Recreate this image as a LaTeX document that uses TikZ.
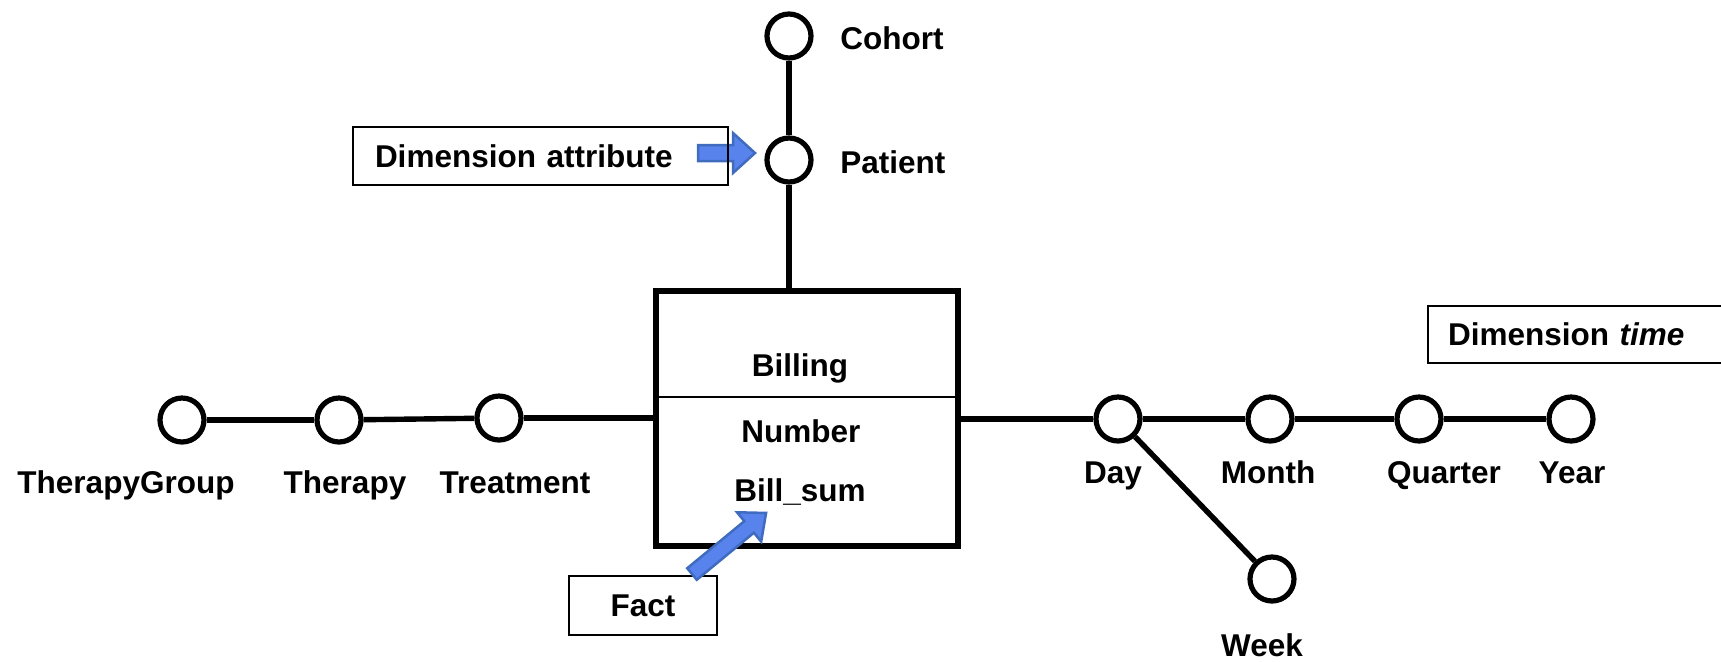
\documentclass[tikz,border=0pt]{standalone}
\usepackage{fontspec}
\setmainfont{Liberation Sans}
\definecolor{arrowfill}{RGB}{88,130,236}
\definecolor{arrowline}{RGB}{64,108,192}
\begin{document}
\begin{tikzpicture}[x=0.5pt, y=-0.5pt,
  attr/.style={circle, draw, line width=2.6pt, minimum size=22pt, inner sep=0pt, fill=white},
  link/.style={line width=2.7pt},
  lbl/.style={font=\bfseries\fontsize{15.75pt}{18pt}\selectfont, inner sep=0pt,
              text height=11.3pt, text depth=0pt},
  tagbox/.style={draw, line width=1pt, font=\bfseries\fontsize{15.75pt}{18pt}\selectfont,
              text height=11.3pt, text depth=0pt, inner ysep=0pt},
  factbox/.style={draw, line width=2.7pt, minimum width=151pt, minimum height=127.5pt, inner sep=0pt},
  bluearrow/.style={fill=arrowfill, draw=arrowline, line width=1.25pt, line join=miter}
]
\useasboundingbox (0,0) rectangle (1721,661);

% fact table
\node[factbox] (billing) at (807,418.5) {};
\coordinate (divL) at (656,397);
\coordinate (divR) at (955,397);
\draw[line width=0.7pt] (divL) -- (divR);

% dimension attributes
\node[attr] (cohort)    at (789,36)   {};
\node[attr] (patient)   at (789,160)  {};
\node[attr] (tgroup)    at (182,420)  {};
\node[attr] (therapy)   at (339,420)  {};
\node[attr] (treatment) at (499,418)  {};
\node[attr] (day)       at (1118,419) {};
\node[attr] (month)     at (1270,419) {};
\node[attr] (quarter)   at (1419,419) {};
\node[attr] (year)      at (1571,419) {};
\node[attr] (week)      at (1272,579) {};

% hierarchy links
\draw[link] (cohort) -- (patient);
\draw[link] (patient) -- (patient |- billing.north);
\draw[link] (tgroup) -- (therapy);
\draw[link] (therapy) -- (treatment);
\draw[link] (treatment) -- (treatment -| billing.west);
\draw[link] (billing.east |- day) -- (day);
\draw[link] (day) -- (month);
\draw[link] (month) -- (quarter);
\draw[link] (quarter) -- (year);
\draw[link] (day) -- (week);

% labels
\node[lbl, anchor=west] (cohortL)  at (840,38.5)  {Cohort};
\node[lbl, anchor=west] (patientL) at (840,162.5) {Patient};
\node[lbl] (billingL) at (800,365)   {Billing};
\node[lbl] (numberL)  at (801,431.5) {Number};
\node[lbl] (billsumL) at (800,490.5) {Bill\_sum};
\node[lbl] (tgroupL)    at (126,482.5) {TherapyGroup};
\node[lbl] (therapyL)   at (345,482.5) {Therapy};
\node[lbl] (treatmentL) at (515,482.5) {Treatment};
\node[lbl] (dayL)     at (1113,472.5) {Day};
\node[lbl] (monthL)   at (1268,472.5) {Month};
\node[lbl] (quarterL) at (1444,472.5) {Quarter};
\node[lbl] (yearL)    at (1572,472.5) {Year};
\node[lbl] (weekL)    at (1262,645.5) {Week};

% pointer to the dimension attribute
\draw[bluearrow, shift={(698,153)}]
  (0,-8) -- (35,-8) -- (35,-20) -- (57,0) -- (35,20) -- (35,8) -- (0,8) -- cycle;

% annotation boxes
\node[tagbox, minimum width=187.5pt, minimum height=29pt, inner xsep=11pt,
      text width=165.5pt, align=left] (dimattr) at (540.5,156) {Dimension attribute};
\node[tagbox, anchor=west, minimum height=28.5pt, inner xsep=10pt,
      text width=150pt, align=left] (dimtime) at (1427,334.5) {Dimension \textit{time}};
\node[tagbox, minimum width=74pt, minimum height=29.5pt, inner xsep=0pt] (fact) at (643,605.5) {Fact};

% pointer to the measure
\draw[bluearrow, shift={(692,574)}, rotate=39.5]
  (0,-7.5) -- (74,-7.5) -- (74,-19) -- (96,0) -- (74,19) -- (74,7.5) -- (0,7.5) -- cycle;
\end{tikzpicture}
\end{document}
